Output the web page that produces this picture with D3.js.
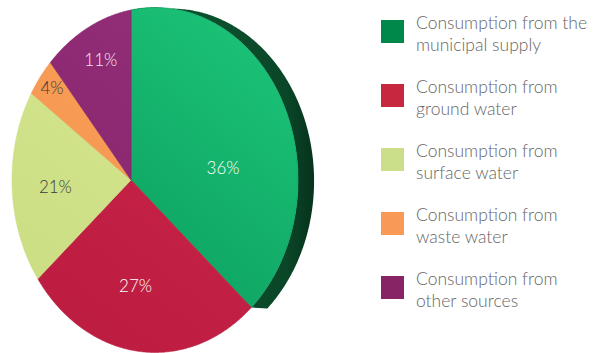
<!DOCTYPE html>
<html>
<head>
<meta charset="utf-8">
<script src="https://cdn.jsdelivr.net/npm/d3@7"></script>
<style>
  html, body { margin: 0; padding: 0; background: #ffffff; }
  svg { display: block; }
</style>
</head>
<body>
<svg id="chart" width="594" height="353"></svg>
<script>
// ---- data ----
const categories = [
  "Consumption from the municipal supply",
  "Consumption from ground water",
  "Consumption from surface water",
  "Consumption from waste water",
  "Consumption from other sources"
];
const legendLines = [
  ["Consumption from the", "municipal supply"],
  ["Consumption from", "ground water"],
  ["Consumption from", "surface water"],
  ["Consumption from", "waste water"],
  ["Consumption from", "other sources"]
];
const values = [36, 27, 21, 4, 11];
const valueLabels = ["36%", "27%", "21%", "4%", "11%"];

// ---- styles / layout ----
const legendColors = ["#00874a", "#c8283f", "#cbdf8a", "#f89a55", "#862466"];
const sliceLight = ["#1cc578", "#cc2549", "#d9e993", "#fba35c", "#962f7c"];
const sliceDark  = ["#08955a", "#bb1c40", "#cadd82", "#f4924c", "#822468"];
const labelColors = ["#ffffff", "#ffffff", "#3a3a3a", "#3a3a3a", "#f4e6f0"];
const labelRadius = [0.60, 0.62, 0.60, 0.87, 0.77];
const labelAngleShift = [18, -3, -1, 1, 3]; // degrees

const svg = d3.select("#chart");
const defs = svg.append("defs");

// perspective projection of a unit disc
const cx = 131, cy = 180, sx = 139, sy = 170, k = 0.168;
function proj(theta, r) {
  const u = r * Math.sin(theta), v = -r * Math.cos(theta);
  const d = 1 - k * u;
  return [cx + sx * u / d, cy + sy * v / d];
}

const pie = d3.pie().sort(null).value(d => d)
  .startAngle(0).endAngle(2 * Math.PI);
const arcs = pie(values);
const line = d3.line().curve(d3.curveLinear);

function arcPoints(a0, a1) {
  const pts = [];
  const n = Math.max(8, Math.ceil(Math.abs(a1 - a0) / 0.01));
  for (let i = 0; i <= n; i++) pts.push(proj(a0 + (a1 - a0) * i / n, 1));
  return pts;
}
function slicePath(a) {
  return line([[cx, cy], ...arcPoints(a.startAngle, a.endAngle)]) + "Z";
}
function rimPath(a, dx, dy) {
  const front = arcPoints(a.startAngle, a.endAngle);
  const back = front.slice().reverse().map(p => [p[0] + dx, p[1] + dy]);
  return line([...front, ...back]) + "Z";
}

// gradients
arcs.forEach((a, i) => {
  const g = defs.append("linearGradient").attr("id", "g" + i)
    .attr("gradientUnits", "userSpaceOnUse")
    .attr("x1", 280).attr("y1", 20).attr("x2", 30).attr("y2", 330);
  g.append("stop").attr("offset", "0%").attr("stop-color", sliceLight[i]);
  g.append("stop").attr("offset", "100%").attr("stop-color", sliceDark[i]);
});
const rim = defs.append("linearGradient").attr("id", "rim")
  .attr("x1", 0).attr("y1", 0).attr("x2", 1).attr("y2", 0);
rim.append("stop").attr("offset", "0%").attr("stop-color", "#0c5a33");
rim.append("stop").attr("offset", "85%").attr("stop-color", "#0a4628");
rim.append("stop").attr("offset", "100%").attr("stop-color", "#06331c");

// side rim of the disc (visible along the first slice)
svg.append("path")
  .attr("d", rimPath(arcs[0], 16, 1))
  .attr("fill", "url(#rim)");

// faces
svg.append("g").selectAll("path").data(arcs).join("path")
  .attr("d", d => slicePath(d))
  .attr("fill", (d, i) => "url(#g" + i + ")")
  .attr("stroke", (d, i) => sliceDark[i])
  .attr("stroke-width", 0.6);

// labels
const labelPos = (d, i) => proj((d.startAngle + d.endAngle) / 2 + labelAngleShift[i] * Math.PI / 180, labelRadius[i]);
svg.append("g").selectAll("text").data(arcs).join("text")
  .attr("x", (d, i) => labelPos(d, i)[0])
  .attr("y", (d, i) => labelPos(d, i)[1])
  .attr("text-anchor", "middle")
  .attr("dominant-baseline", "central")
  .attr("font-family", "Lato, 'Open Sans', sans-serif")
  .attr("font-weight", 300)
  .attr("font-size", 17)
  .attr("fill", (d, i) => labelColors[i])
  .text((d, i) => valueLabels[i]);

// legend
const lg = svg.append("g").attr("transform", "translate(381,20)");
const item = lg.selectAll("g").data(categories).join("g")
  .attr("transform", (d, i) => `translate(0,${i * 64})`);
item.append("rect").attr("width", 23).attr("height", 23)
  .attr("fill", (d, i) => legendColors[i]);
const tx = item.append("text")
  .attr("font-family", "Lato, 'Open Sans', sans-serif")
  .attr("font-weight", 300)
  .attr("font-size", 17.5)
  .attr("fill", "#666666");
tx.selectAll("tspan").data((d, i) => legendLines[i]).join("tspan")
  .attr("x", 35)
  .attr("y", (d, j) => 9 + j * 22)
  .text(d => d);
</script>
</body>
</html>
